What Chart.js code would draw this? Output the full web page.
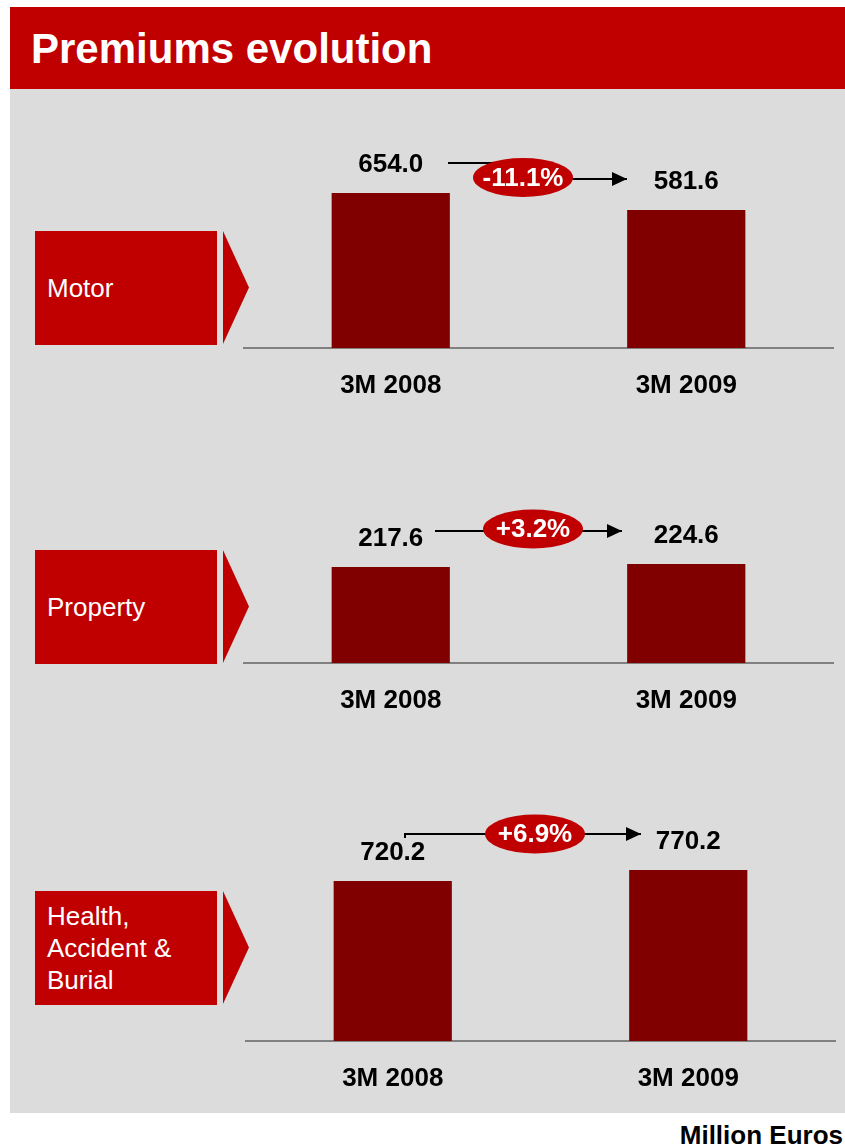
<!DOCTYPE html>
<html>
<head>
<meta charset="utf-8">
<title>Premiums evolution</title>
<script src="https://cdn.jsdelivr.net/npm/chart.js@4.4.0/dist/chart.umd.min.js"></script>
<style>
  html, body { margin: 0; padding: 0; background: #fff; }
  body { width: 845px; height: 1147px; position: relative; overflow: hidden; font-family: "Liberation Sans", Arial, sans-serif; }
  .title { position: absolute; left: 10px; top: 7px; width: 835px; height: 82px; background: #c00000; color: #fff; font-weight: bold; font-size: 42px; line-height: 84px; padding-left: 21px; box-sizing: border-box; }
  .panel { position: absolute; left: 10px; top: 89px; width: 835px; height: 1024px; background: #dcdcdc; }
  .segment { position: absolute; left: 35px; width: 182px; height: 114px; background: #c00000; color: #fff; font-size: 26px; line-height: 32px; display: flex; align-items: center; padding-left: 12px; box-sizing: border-box; }
  .chevron { position: absolute; left: 223px; width: 26px; height: 113px; background: #c00000; clip-path: polygon(0 0, 100% 50%, 0 100%); }
  .chart-box { position: absolute; }
  .chart-box canvas { display: block; }
  .unit { position: absolute; right: 2px; top: 1122px; font-size: 26px; font-weight: bold; line-height: 26px; color: #000; }
</style>
</head>
<body>
<div class="title">Premiums evolution</div>
<div class="panel"></div>
<div id="charts"></div>
<div class="unit">Million Euros</div>

<script>
// data
const categories = ['3M 2008', '3M 2009'];
const segmentNames = ['Motor', 'Property', 'Health,\nAccident &\nBurial'];
const motorValues = [654.0, 581.6];
const propertyValues = [217.6, 224.6];
const healthValues = [720.2, 770.2];
const changeLabels = ['-11.1%', '+3.2%', '+6.9%'];
// top of each value axis (each panel has its own scale)
const axisMax = [1046, 506, 1265];

(function () {
  const FONT = '"Liberation Sans", Arial, sans-serif';
  const BAR = '#800000';
  const RED = '#c00000';
  const AXIS_BAND = 72;

  // page layout of the three panels
  const panels = [
    { values: motorValues, left: 243, width: 591, top: 100, axisY: 348, boxTop: 231,
      arrow: { points: [[448, 163], [523, 163], [523, 179], [627, 179]], cx: 523, cy: 177.5 } },
    { values: propertyValues, left: 243, width: 591, top: 440, axisY: 663, boxTop: 550,
      arrow: { points: [[435, 531], [622, 531]], cx: 533, cy: 529 } },
    { values: healthValues, left: 245, width: 591, top: 760, axisY: 1041, boxTop: 891,
      arrow: { points: [[405, 838], [405, 834], [641, 834]], cx: 535, cy: 834 } }
  ];

  const valueLabels = {
    id: 'valueLabels',
    afterDatasetsDraw: function (chart) {
      const ctx = chart.ctx;
      const meta = chart.getDatasetMeta(0);
      const data = chart.data.datasets[0].data;
      ctx.save();
      ctx.fillStyle = '#000';
      ctx.font = 'bold 26px ' + FONT;
      ctx.textAlign = 'center';
      ctx.textBaseline = 'middle';
      meta.data.forEach(function (bar, i) {
        ctx.fillText(Number(data[i]).toFixed(1), bar.x, bar.y - 28);
      });
      ctx.restore();
    }
  };

  const changeArrow = {
    id: 'changeArrow',
    afterDraw: function (chart, args, opts) {
      const ctx = chart.ctx;
      const ox = opts.left;
      const oy = opts.top;
      const pts = opts.arrow.points.map(function (p) { return [p[0] - ox, p[1] - oy]; });
      ctx.save();
      ctx.strokeStyle = '#000';
      ctx.lineWidth = 2;
      ctx.beginPath();
      pts.forEach(function (p, i) {
        if (i === 0) ctx.moveTo(p[0], p[1]); else ctx.lineTo(p[0], p[1]);
      });
      const tip = pts[pts.length - 1];
      ctx.lineTo(tip[0] - 8, tip[1]);
      ctx.stroke();
      ctx.fillStyle = '#000';
      ctx.beginPath();
      ctx.moveTo(tip[0], tip[1]);
      ctx.lineTo(tip[0] - 15, tip[1] - 7);
      ctx.lineTo(tip[0] - 15, tip[1] + 7);
      ctx.closePath();
      ctx.fill();

      const cx = opts.arrow.cx - ox;
      const cy = opts.arrow.cy - oy;
      ctx.fillStyle = RED;
      ctx.beginPath();
      ctx.ellipse(cx, cy, 50, 19.5, 0, 0, Math.PI * 2);
      ctx.fill();
      ctx.fillStyle = '#fff';
      ctx.font = 'bold 26px ' + FONT;
      ctx.textAlign = 'center';
      ctx.textBaseline = 'middle';
      ctx.fillText(opts.label, cx, cy + 1);
      ctx.restore();
    }
  };

  const holder = document.getElementById('charts');

  panels.forEach(function (panel, index) {
    const box = document.createElement('div');
    box.className = 'segment';
    box.style.top = panel.boxTop + 'px';
    box.innerHTML = segmentNames[index].split('\n').join('<br>');
    holder.appendChild(box);

    const chevron = document.createElement('div');
    chevron.className = 'chevron';
    chevron.style.top = panel.boxTop + 'px';
    holder.appendChild(chevron);

    const wrap = document.createElement('div');
    wrap.className = 'chart-box';
    wrap.style.left = panel.left + 'px';
    wrap.style.top = panel.top + 'px';
    const canvas = document.createElement('canvas');
    canvas.width = panel.width;
    canvas.height = panel.axisY - panel.top + AXIS_BAND;
    canvas.style.width = canvas.width + 'px';
    canvas.style.height = canvas.height + 'px';
    wrap.appendChild(canvas);
    holder.appendChild(wrap);

    new Chart(canvas, {
      type: 'bar',
      data: {
        labels: categories,
        datasets: [{
          data: panel.values,
          backgroundColor: BAR,
          borderWidth: 0,
          barPercentage: 0.4,
          categoryPercentage: 1
        }]
      },
      options: {
        responsive: false,
        animation: false,
        devicePixelRatio: 1,
        layout: { padding: 0 },
        events: [],
        plugins: {
          legend: { display: false },
          tooltip: { enabled: false },
          changeArrow: { left: panel.left, top: panel.top, arrow: panel.arrow, label: changeLabels[index] }
        },
        scales: {
          x: {
            grid: { display: false, drawTicks: false },
            border: { display: true, color: '#808080', width: 2 },
            ticks: { color: '#000', padding: 22, font: { family: FONT, size: 26, weight: 'bold' } },
            afterFit: function (scale) { scale.height = AXIS_BAND; }
          },
          y: { display: false, min: 0, max: axisMax[index] }
        }
      },
      plugins: [valueLabels, changeArrow]
    });
  });
})();
</script>
</body>
</html>
